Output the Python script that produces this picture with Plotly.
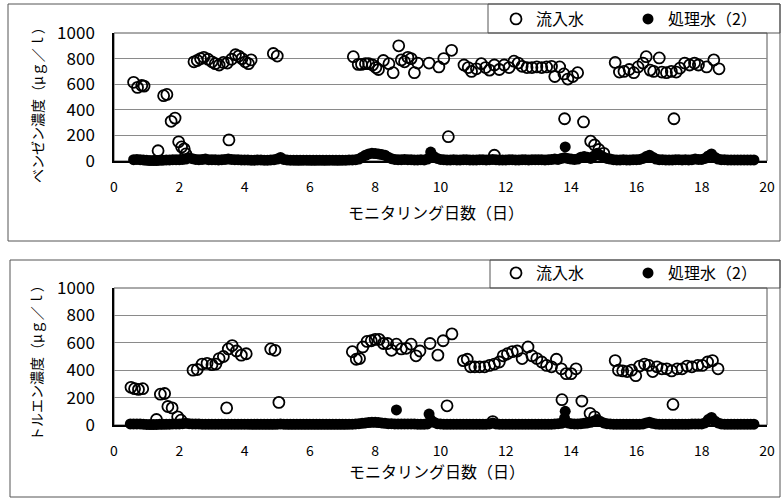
import plotly.graph_objects as go

W, H = 783, 500

# ---------------- data ----------------
x_ticks = [0, 2, 4, 6, 8, 10, 12, 14, 16, 18, 20]
y_ticks = [0, 200, 400, 600, 800, 1000]

# Benzene - influent (open circles)
benz_in_x = [0.6, 0.72, 0.85, 0.92, 1.35, 1.52, 1.62, 1.75, 1.87, 1.98, 2.07, 2.15, 2.2,
             2.45, 2.55, 2.65, 2.75, 2.88, 3.0, 3.1, 3.22, 3.35, 3.47, 3.6, 3.72, 3.82, 3.92,
             4.02, 4.12, 4.2, 3.52, 4.88, 5.0,
             7.33, 7.48, 7.58, 7.7, 7.8, 7.92, 8.02, 8.1, 8.25, 8.42, 8.55, 8.72, 8.8, 8.9,
             9.0, 9.1, 9.2, 9.3, 9.65, 9.95, 10.1, 10.34, 10.24,
             10.72, 10.85, 10.95, 11.1, 11.25, 11.38, 11.5, 11.65, 11.8, 11.95, 12.1, 12.25,
             12.38, 12.5, 12.65, 12.8, 12.95, 13.1, 13.25, 13.4, 13.5, 13.65, 13.78, 13.9,
             14.05, 14.2, 13.8, 14.38, 11.65, 14.6, 14.72, 14.85, 15.0,
             15.35, 15.48, 15.62, 15.78, 15.92, 16.05, 16.2, 16.3, 16.42, 16.53, 16.7, 16.78,
             16.92, 17.07, 17.22, 17.33, 17.48, 17.63, 17.78, 17.9, 18.15, 18.37, 18.53, 17.15]
benz_in_y = [615, 575, 590, 585, 80, 510, 520, 310, 335, 150, 110, 95, 55,
             775, 785, 800, 810, 795, 775, 760, 750, 770, 765, 795, 830, 820, 800,
             775, 760, 790, 165, 840, 820,
             815, 755, 755, 760, 760, 750, 730, 715, 785, 760, 690, 900, 790, 775,
             810, 800, 690, 765, 765, 735, 800, 865, 190,
             750, 730, 700, 720, 760, 730, 710, 750, 715, 750, 730, 780,
             765, 740, 730, 730, 735, 730, 735, 740, 660, 735, 680, 640,
             660, 690, 330, 305, 45, 155, 125, 90, 60,
             770, 695, 700, 715, 690, 735, 765, 815, 710, 700, 805, 695,
             690, 700, 695, 725, 765, 750, 765, 750, 735, 790, 720, 330]

# Benzene - treated water (2) (filled circles)
benz_tr_x = [0.6, 0.7, 0.8, 0.9,
             1.0, 1.1, 1.2, 1.3, 1.4, 1.5, 1.6, 1.7, 1.8, 1.9,
             2.0, 2.1, 2.2, 2.3, 2.4, 2.5, 2.6, 2.7, 2.8, 2.9,
             3.0, 3.1, 3.2, 3.3, 3.4, 3.5, 3.6, 3.7, 3.8, 3.9,
             4.0, 4.1, 4.2, 4.3, 4.4, 4.5, 4.6, 4.7, 4.8, 4.9,
             5.0, 5.1, 5.2, 5.3, 5.4, 5.5, 5.6, 5.7, 5.8, 5.9,
             6.0, 6.1, 6.2, 6.3, 6.4, 6.5, 6.6, 6.7, 6.8, 6.9,
             7.0, 7.1, 7.2, 7.3, 7.4, 7.5, 7.6, 7.7, 7.8, 7.9,
             8.0, 8.1, 8.2, 8.3, 8.4, 8.5, 8.6, 8.7, 8.8, 8.9,
             9.0, 9.1, 9.2, 9.3, 9.4, 9.5, 9.6, 9.7, 9.8, 9.9,
             10.0, 10.1, 10.2, 10.3, 10.4, 10.5, 10.6, 10.7, 10.8, 10.9,
             11.0, 11.1, 11.2, 11.3, 11.4, 11.5, 11.6, 11.7, 11.8, 11.9,
             12.0, 12.1, 12.2, 12.3, 12.4, 12.5, 12.6, 12.7, 12.8, 12.9,
             13.0, 13.1, 13.2, 13.3, 13.4, 13.5, 13.6, 13.7, 13.8, 13.9,
             14.0, 14.1, 14.2, 14.3, 14.4, 14.5, 14.6, 14.7, 14.8, 14.9,
             15.0, 15.1, 15.2, 15.3, 15.4, 15.5, 15.6, 15.7, 15.8, 15.9,
             16.0, 16.1, 16.2, 16.3, 16.4, 16.5, 16.6, 16.7, 16.8, 16.9,
             17.0, 17.1, 17.2, 17.3, 17.4, 17.5, 17.6, 17.7, 17.8, 17.9,
             18.0, 18.1, 18.2, 18.3, 18.4, 18.5, 18.6, 18.7, 18.8, 18.9,
             19.0, 19.1, 19.2, 19.3, 19.4, 19.5, 19.6,
             13.82]
benz_tr_y = [10, 12, 10, 8,
             5, 4, 3, 4, 5, 6, 8, 8, 10, 10,
             10, 12, 15, 25, 18, 12, 10, 12, 15, 10,
             10, 10, 8, 10, 12, 15, 12, 10, 10, 8,
             8, 8, 6, 6, 8, 8, 6, 6, 8, 10,
             15, 28, 12, 8, 6, 6, 5, 5, 6, 6,
             5, 5, 5, 6, 5, 5, 6, 6, 5, 5,
             6, 6, 8, 8, 10, 15, 30, 45, 55, 60,
             58, 55, 50, 45, 30, 18, 12, 10, 10, 12,
             10, 10, 8, 8, 10, 8, 15, 70, 35, 20,
             12, 10, 8, 8, 10, 8, 8, 10, 10, 8,
             8, 8, 10, 10, 8, 10, 12, 10, 8, 8,
             8, 10, 10, 8, 8, 10, 10, 8, 10, 10,
             10, 10, 8, 10, 12, 15, 12, 20, 25, 20,
             15, 12, 15, 30, 35, 30, 20, 40, 60, 45,
             30, 20, 15, 10, 8, 8, 10, 8, 8, 10,
             10, 12, 20, 35, 45, 30, 15, 10, 10, 8,
             8, 8, 10, 10, 8, 10, 8, 10, 15, 12,
             12, 20, 40, 55, 30, 15, 10, 10, 8, 8,
             8, 8, 8, 8, 8, 8, 8,
             110]

# Toluene - influent (open circles)
tol_in_x = [0.52, 0.63, 0.75, 0.88, 1.3, 1.42, 1.55, 1.65, 1.78, 1.95, 2.05,
            2.42, 2.55, 2.7, 2.85, 3.0, 3.12, 3.22, 3.35, 3.5, 3.62, 3.75, 3.9, 4.05,
            3.45, 4.8, 4.93, 5.05,
            7.3, 7.42, 7.52, 7.62, 7.75, 7.88, 8.0, 8.12, 8.25, 8.38, 8.5, 8.65, 8.8,
            8.95, 9.1, 9.25, 9.37, 9.68, 9.92, 10.08, 10.35, 10.2,
            10.7, 10.82, 10.92, 11.05, 11.2, 11.35, 11.5, 11.65, 11.8, 11.92, 12.05,
            12.2, 12.35, 12.5, 12.68, 12.8, 12.95, 13.1, 13.25, 13.4, 13.55, 13.7,
            13.85, 14.0, 14.15, 13.72, 14.33, 11.6, 14.58, 14.72,
            15.35, 15.45, 15.58, 15.72, 15.85, 15.98, 16.1, 16.25, 16.38, 16.5, 16.63,
            16.78, 16.93, 17.08, 17.25, 17.4, 17.55, 17.7, 17.88, 18.02, 18.18, 18.33,
            18.5, 17.12]
tol_in_y = [275, 265, 260, 265, 40, 225, 230, 135, 125, 60, 35,
            400, 405, 445, 450, 440, 445, 485, 500, 555, 580, 540, 510, 520,
            125, 555, 545, 165,
            535, 480, 485, 570, 610, 615, 625, 625, 595, 595, 545, 590, 555,
            560, 590, 505, 540, 595, 510, 615, 665, 140,
            470, 480, 425, 425, 425, 425, 435, 445, 460, 505, 520,
            535, 540, 485, 570, 505, 485, 460, 435, 425, 480, 410,
            375, 375, 410, 185, 175, 25, 85, 60,
            470, 400, 395, 390, 400, 360, 430, 445, 435, 390, 425,
            410, 410, 395, 410, 410, 430, 425, 435, 435, 460, 470,
            410, 150]

# Toluene - treated water (2) (filled circles)
tol_tr_x = [0.5, 0.6, 0.7, 0.8, 0.9,
            1.0, 1.1, 1.2, 1.3, 1.4, 1.5, 1.6, 1.7, 1.8, 1.9,
            2.0, 2.1, 2.2, 2.3, 2.4, 2.5, 2.6, 2.7, 2.8, 2.9,
            3.0, 3.1, 3.2, 3.3, 3.4, 3.5, 3.6, 3.7, 3.8, 3.9,
            4.0, 4.1, 4.2, 4.3, 4.4, 4.5, 4.6, 4.7, 4.8, 4.9,
            5.0, 5.1, 5.2, 5.3, 5.4, 5.5, 5.6, 5.7, 5.8, 5.9,
            6.0, 6.1, 6.2, 6.3, 6.4, 6.5, 6.6, 6.7, 6.8, 6.9,
            7.0, 7.1, 7.2, 7.3, 7.4, 7.5, 7.6, 7.7, 7.8, 7.9,
            8.0, 8.1, 8.2, 8.3, 8.4, 8.5, 8.6, 8.7, 8.8, 8.9,
            9.0, 9.1, 9.2, 9.3, 9.4, 9.5, 9.6, 9.7, 9.8, 9.9,
            10.0, 10.1, 10.2, 10.3, 10.4, 10.5, 10.6, 10.7, 10.8, 10.9,
            11.0, 11.1, 11.2, 11.3, 11.4, 11.5, 11.6, 11.7, 11.8, 11.9,
            12.0, 12.1, 12.2, 12.3, 12.4, 12.5, 12.6, 12.7, 12.8, 12.9,
            13.0, 13.1, 13.2, 13.3, 13.4, 13.5, 13.6, 13.7, 13.8, 13.9,
            14.0, 14.1, 14.2, 14.3, 14.4, 14.5, 14.6, 14.7, 14.8, 14.9,
            15.0, 15.1, 15.2, 15.3, 15.4, 15.5, 15.6, 15.7, 15.8, 15.9,
            16.0, 16.1, 16.2, 16.3, 16.4, 16.5, 16.6, 16.7, 16.8, 16.9,
            17.0, 17.1, 17.2, 17.3, 17.4, 17.5, 17.6, 17.7, 17.8, 17.9,
            18.0, 18.1, 18.2, 18.3, 18.4, 18.5, 18.6, 18.7, 18.8, 18.9,
            19.0, 19.1, 19.2, 19.3, 19.4, 19.5, 19.6,
            8.65, 9.65, 13.82]
tol_tr_y = [8, 8, 8, 8, 6,
            4, 3, 3, 4, 5, 5, 6, 6, 8, 8,
            8, 10, 12, 10, 8, 8, 8, 6, 6, 6,
            6, 6, 6, 6, 6, 6, 6, 6, 6, 6,
            6, 6, 5, 5, 5, 5, 5, 5, 5, 5,
            6, 8, 6, 5, 5, 5, 5, 5, 5, 5,
            5, 5, 5, 5, 5, 5, 5, 5, 5, 5,
            5, 5, 6, 6, 8, 10, 12, 15, 18, 20,
            20, 18, 15, 12, 10, 10, 8, 8, 8, 8,
            8, 8, 8, 6, 6, 6, 8, 40, 20, 10,
            8, 6, 6, 6, 6, 6, 6, 6, 6, 6,
            6, 6, 6, 6, 6, 8, 15, 8, 6, 6,
            6, 6, 6, 6, 6, 6, 6, 6, 6, 6,
            6, 6, 6, 6, 6, 8, 10, 12, 50, 15,
            10, 8, 8, 10, 12, 15, 20, 30, 40, 25,
            15, 10, 8, 6, 6, 6, 6, 6, 6, 6,
            6, 6, 8, 15, 20, 12, 8, 6, 6, 6,
            6, 6, 6, 6, 6, 6, 6, 8, 8, 8,
            8, 15, 40, 55, 30, 15, 8, 6, 6, 6,
            6, 6, 6, 6, 6, 6, 6,
            110, 80, 100]

name_in = "流入水"
name_tr = "処理水（2）"
ytitle_top = "ベンゼン濃度（μｇ／ｌ）"
ytitle_bot = "トルエン濃度（μｇ／ｌ）"
xtitle = "モニタリング日数（日）"

# ---------------- figure ----------------
FONT = "Noto Sans CJK JP"

def px_x(p):
    return p / W

def px_y(p):
    return 1 - p / H

open_marker = dict(symbol="circle-open", size=11, color="black", line=dict(width=1.8, color="black"))
fill_marker = dict(symbol="circle", size=11, color="black", line=dict(width=0))

fig = go.Figure()
fig.add_trace(go.Scatter(x=benz_in_x, y=benz_in_y, mode="markers", name=name_in,
                         marker=open_marker, xaxis="x", yaxis="y", legend="legend", cliponaxis=False))
fig.add_trace(go.Scatter(x=benz_tr_x, y=benz_tr_y, mode="markers", name=name_tr,
                         marker=fill_marker, xaxis="x", yaxis="y", legend="legend", cliponaxis=False))
fig.add_trace(go.Scatter(x=tol_in_x, y=tol_in_y, mode="markers", name=name_in,
                         marker=open_marker, xaxis="x2", yaxis="y2", legend="legend2", cliponaxis=False))
fig.add_trace(go.Scatter(x=tol_tr_x, y=tol_tr_y, mode="markers", name=name_tr,
                         marker=fill_marker, xaxis="x2", yaxis="y2", legend="legend2", cliponaxis=False))

xdom = [px_x(114), px_x(767)]
top_dom = [px_y(161), px_y(33)]
bot_dom = [px_y(425), px_y(288)]

xaxis_common = dict(range=[0, 20], tickvals=x_ticks, ticktext=[str(v) for v in x_ticks],
                    showgrid=False, zeroline=False, showline=True, linecolor="black", linewidth=1.5,
                    ticks="", tickfont=dict(family=FONT, size=14, color="black"),
                    ticklabelstandoff=12, automargin=False)
yaxis_common = dict(range=[0, 1000], tickvals=y_ticks, ticktext=[str(v) for v in y_ticks],
                    showgrid=True, gridcolor="#8a8a8a", gridwidth=1, zeroline=False,
                    showline=True, linecolor="black", linewidth=1.5, ticks="",
                    tickfont=dict(family=FONT, size=17, color="black"), ticklabelstandoff=14,
                    automargin=False)

legend_common = dict(orientation="h", xanchor="left", yanchor="top",
                     font=dict(family=FONT, size=16, color="black"), bgcolor="rgba(0,0,0,0)",
                     entrywidth=87, entrywidthmode="pixels", borderwidth=0)

fig.update_layout(
    width=W, height=H, margin=dict(l=0, r=0, t=0, b=0, autoexpand=False),
    paper_bgcolor="white", plot_bgcolor="white",
    font=dict(family=FONT, color="black"),
    xaxis=dict(domain=xdom, anchor="y", **xaxis_common),
    yaxis=dict(domain=top_dom, anchor="x", **yaxis_common),
    xaxis2=dict(domain=xdom, anchor="y2", **xaxis_common),
    yaxis2=dict(domain=bot_dom, anchor="x2", **yaxis_common),
    legend=dict(x=px_x(496), y=px_y(2), **legend_common),
    legend2=dict(x=px_x(496), y=px_y(256), **legend_common),
)

shapes = []
# outer boxes
for (x0, y0, x1, y1) in [(8, 4, 780, 241), (10, 260, 780, 497)]:
    shapes.append(dict(type="rect", xref="paper", yref="paper", x0=px_x(x0), x1=px_x(x1),
                       y0=px_y(y1), y1=px_y(y0), line=dict(color="#555555", width=1)))
# legend boxes
for (x0, y0, x1, y1) in [(488, 4, 780, 33), (490, 260, 780, 288)]:
    shapes.append(dict(type="rect", xref="paper", yref="paper", x0=px_x(x0), x1=px_x(x1),
                       y0=px_y(y1), y1=px_y(y0), line=dict(color="#555555", width=1)))
# plot area borders
for ax in ["", "2"]:
    shapes.append(dict(type="rect", xref="x%s domain" % ax, yref="y%s domain" % ax,
                       x0=0, x1=1, y0=0, y1=1, line=dict(color="#555555", width=1), layer="below"))
fig.update_layout(shapes=shapes)

annotations = [
    dict(text=ytitle_top, x=px_x(37), y=px_y(102), xref="paper", yref="paper", textangle=-90,
         xanchor="center", yanchor="middle",
         showarrow=False, font=dict(family=FONT, size=14, color="black")),
    dict(text=ytitle_bot, x=px_x(36), y=px_y(360), xref="paper", yref="paper", textangle=-90,
         xanchor="center", yanchor="middle",
         showarrow=False, font=dict(family=FONT, size=14, color="black")),
    dict(text=xtitle, x=px_x(436), y=px_y(212), xref="paper", yref="paper",
         xanchor="center", yanchor="middle",
         showarrow=False, font=dict(family=FONT, size=16, color="black")),
    dict(text=xtitle, x=px_x(437), y=px_y(471), xref="paper", yref="paper",
         xanchor="center", yanchor="middle",
         showarrow=False, font=dict(family=FONT, size=16, color="black")),
]
fig.update_layout(annotations=annotations)

fig.write_html("out.html", config={"displayModeBar": False},
               post_script="document.body.style.margin='0px';")
